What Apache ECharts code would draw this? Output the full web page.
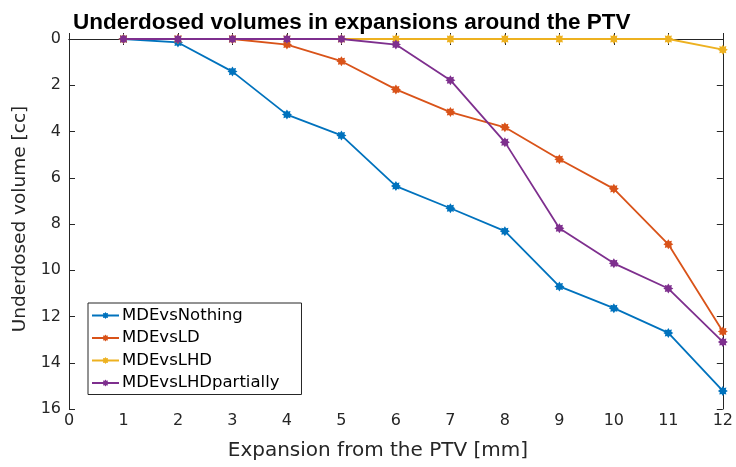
<!DOCTYPE html>
<html>
<head>
<meta charset="utf-8">
<script src="https://cdn.jsdelivr.net/npm/echarts@6/dist/echarts.min.js"></script>
<style>
  html, body { margin: 0; padding: 0; background: #fff; }
  #chart { width: 736px; height: 467px; }
</style>
</head>
<body>
<div id="chart"></div>
<script>
// Expansion distance around the PTV (mm)
const expansions = [1, 2, 3, 4, 5, 6, 7, 8, 9, 10, 11, 12];

// Underdosed volume (cc) for each comparison
const mdeVsNothing = [0, 0.15, 1.41, 3.27, 4.17, 6.36, 7.32, 8.31, 10.7, 11.64, 12.71, 15.22];
const mdeVsLD = [0, 0, 0, 0.24, 0.96, 2.18, 3.16, 3.82, 5.2, 6.48, 8.88, 12.65];
const mdeVsLHD = [0, 0, 0, 0, 0, 0, 0, 0, 0, 0, 0, 0.46];
const mdeVsLHDpartially = [0, 0, 0, 0, 0, 0.24, 1.78, 4.46, 8.18, 9.7, 10.79, 13.1];

const seriesNames = ['MDEvsNothing', 'MDEvsLD', 'MDEvsLHD', 'MDEvsLHDpartially'];
const seriesValues = [mdeVsNothing, mdeVsLD, mdeVsLHD, mdeVsLHDpartially];
const seriesColors = ['#0072BD', '#D95319', '#EDB120', '#7E2F8E'];

const xTicks = [0, 1, 2, 3, 4, 5, 6, 7, 8, 9, 10, 11, 12];
const yTicks = [0, 2, 4, 6, 8, 10, 12, 14, 16];

// asterisk-like marker: an eight-pointed star
function starPath() {
  const pts = [];
  const n = 8;
  for (let i = 0; i < n * 2; i++) {
    const r = i % 2 === 0 ? 10 : 6.5;
    const a = Math.PI * i / n - Math.PI / 2;
    pts.push((10 + r * Math.cos(a)).toFixed(2) + ',' + (10 + r * Math.sin(a)).toFixed(2));
  }
  return 'path://M' + pts.join('L') + 'Z';
}
const marker = starPath();

const axisColor = '#262626';
const textFam = 'DejaVu Sans, Liberation Sans, sans-serif';
const titleFam = 'Liberation Sans, Arial, Helvetica, sans-serif';

const chart = echarts.init(document.getElementById('chart'), null, { renderer: 'canvas' });

const option = {
  backgroundColor: '#ffffff',
  animation: false,
  title: {
    text: 'Underdosed volumes in expansions around the PTV',
    left: 68,
    top: 6,
    textStyle: { fontFamily: titleFam, fontWeight: 'bold', fontSize: 22.5, color: '#000' }
  },
  grid: { left: 69, right: 9, top: 39, bottom: 58, containLabel: false },
  legend: {
    data: seriesNames,
    orient: 'vertical',
    left: 88,
    top: 303,
    itemWidth: 27,
    itemHeight: 9,
    itemGap: 5.5,
    padding: [4, 22, 3, 3],
    borderColor: '#262626',
    borderWidth: 1,
    backgroundColor: '#fff',
    textStyle: { fontFamily: textFam, fontSize: 16.5, color: '#000', padding: [0, 0, 0, -2] }
  },
  xAxis: [
    {
      type: 'value',
      min: xTicks[0],
      max: xTicks[xTicks.length - 1],
      interval: 1,
      position: 'bottom',
      name: 'Expansion from the PTV [mm]',
      nameLocation: 'middle',
      nameGap: 32,
      nameTextStyle: { fontFamily: textFam, fontSize: 20, color: axisColor, padding: [0, 36, 0, 0] },
      axisLine: { lineStyle: { color: axisColor, width: 1 } },
      axisTick: { inside: true, length: 6, lineStyle: { color: axisColor } },
      axisLabel: { fontFamily: textFam, fontSize: 16, color: axisColor, margin: 4 },
      splitLine: { show: false }
    },
    {
      type: 'value',
      min: xTicks[0],
      max: xTicks[xTicks.length - 1],
      interval: 1,
      position: 'top',
      axisLine: { onZero: false, lineStyle: { color: axisColor, width: 1 } },
      axisTick: { inside: true, length: 6, lineStyle: { color: axisColor } },
      axisLabel: { show: false },
      splitLine: { show: false }
    }
  ],
  yAxis: [
    {
      type: 'value',
      inverse: true,
      min: yTicks[0],
      max: yTicks[yTicks.length - 1],
      interval: 2,
      position: 'left',
      name: 'Underdosed volume [cc]',
      nameLocation: 'middle',
      nameGap: 35,
      nameTextStyle: { fontFamily: textFam, fontSize: 18.5, color: axisColor, padding: [0, 0, 0, 10] },
      axisLine: { show: true, onZero: false, lineStyle: { color: axisColor, width: 1 } },
      axisTick: { show: true, inside: true, length: 6, lineStyle: { color: axisColor } },
      axisLabel: { fontFamily: textFam, fontSize: 16, color: axisColor, margin: 8 },
      splitLine: { show: false }
    },
    {
      type: 'value',
      inverse: true,
      min: yTicks[0],
      max: yTicks[yTicks.length - 1],
      interval: 2,
      position: 'right',
      axisLine: { show: true, onZero: false, lineStyle: { color: axisColor, width: 1 } },
      axisTick: { show: true, inside: true, length: 6, lineStyle: { color: axisColor } },
      axisLabel: { show: false },
      splitLine: { show: false }
    }
  ],
  series: seriesNames.map((name, i) => ({
    name: name,
    type: 'line',
    xAxisIndex: 0,
    yAxisIndex: 0,
    data: expansions.map((x, j) => [x, seriesValues[i][j]]),
    symbol: marker,
    symbolSize: 10,
    showAllSymbol: true,
    lineStyle: { color: seriesColors[i], width: 1.8 },
    itemStyle: { color: seriesColors[i], borderWidth: 0 },
    emphasis: { disabled: true },
    z: 2 + i
  }))
};

chart.setOption(option);
</script>
</body>
</html>
